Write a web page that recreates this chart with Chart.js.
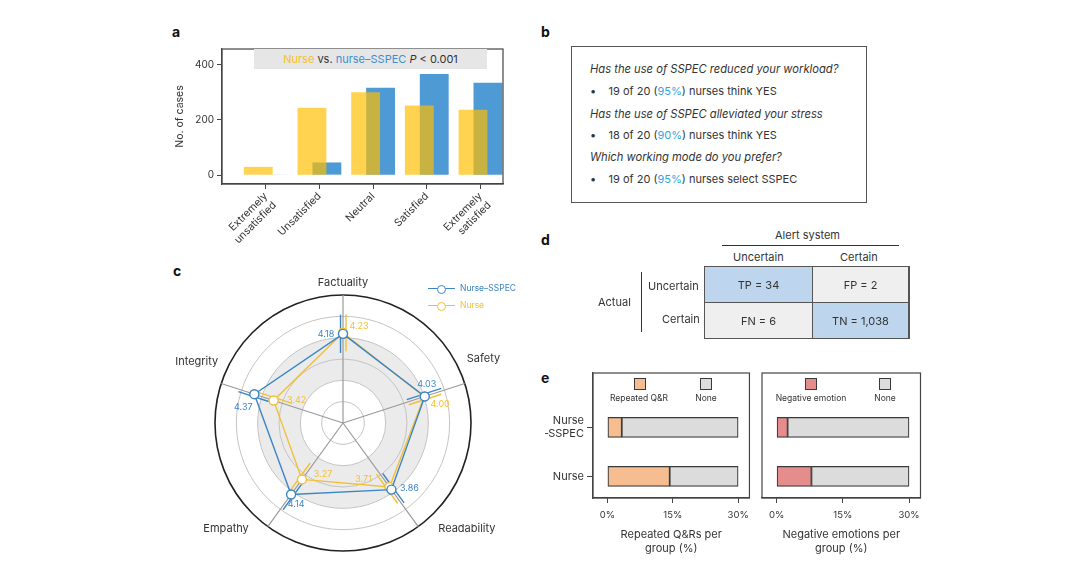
<!DOCTYPE html>
<html>
<head>
<meta charset="utf-8">
<script src="https://cdn.jsdelivr.net/npm/chart.js@4.4.0/dist/chart.umd.min.js"></script>
<style>
  body { margin: 0; width: 1080px; height: 571px; background: #fff; position: relative; overflow: hidden;
         font-family: Inter, sans-serif; color: #333; }
  canvas { position: absolute; }
  .abs { position: absolute; white-space: nowrap; }
  .panel { position: absolute; font-weight: 700; font-size: 14px; color: #111; }
  .q { font-style: italic; font-size: 11.2px; }
  .b { font-size: 11px; }
  .pct { color: #35a6dd; }
  .cell { position: absolute; font-size: 11px; display: flex; align-items: center; justify-content: center; }
  .sq { position: absolute; width: 10px; height: 10px; border: 1.2px solid #3a3a3a; }
  .lg { position: absolute; font-size: 8.5px; transform: translateX(-50%); white-space: nowrap; }
</style>
</head>
<body>

<!-- panel labels -->
<div class="panel" style="left:172px;top:23px">a</div>
<div class="panel" style="left:541px;top:23px">b</div>
<div class="panel" style="left:173px;top:262px">c</div>
<div class="panel" style="left:541px;top:231px">d</div>
<div class="panel" style="left:541px;top:369px">e</div>

<!-- panel a -->
<canvas id="barA" width="350" height="220" style="left:160px;top:40px"></canvas>
<div class="abs" style="left:254px;top:49px;width:233px;height:20px;background:#e6e6e6;font-size:11px;line-height:20px;text-align:center">
  <span style="color:#f5c02a">Nurse</span> vs. <span style="color:#3d8fd0">nurse–SSPEC</span> <i>P</i> &lt; 0.001
</div>

<!-- panel b -->
<div class="abs" style="left:571px;top:46px;width:294px;height:155px;border:1.3px solid #555"></div>
<div class="abs q" style="left:590px;top:62px">Has the use of SSPEC reduced your workload?</div>
<div class="abs b" style="left:590px;top:84px">•&nbsp;&nbsp;&nbsp;&nbsp;19 of 20 (<span class="pct">95%</span>) nurses think YES</div>
<div class="abs q" style="left:590px;top:107px">Has the use of SSPEC alleviated your stress</div>
<div class="abs b" style="left:590px;top:128px">•&nbsp;&nbsp;&nbsp;&nbsp;18 of 20 (<span class="pct">90%</span>) nurses think YES</div>
<div class="abs q" style="left:590px;top:150px">Which working mode do you prefer?</div>
<div class="abs b" style="left:590px;top:172px">•&nbsp;&nbsp;&nbsp;&nbsp;19 of 20 (<span class="pct">95%</span>) nurses select SSPEC</div>

<!-- panel c -->
<canvas id="radarC" width="380" height="290" style="left:160px;top:265px"></canvas>
<div class="abs" style="left:428px;top:288px;width:27px;height:1.3px;background:#3d85c6"></div>
<div class="abs" style="left:437px;top:285px;width:7px;height:7px;border:1.3px solid #3d85c6;border-radius:50%;background:#fff"></div>
<div class="abs" style="left:460px;top:283px;font-size:8.5px;color:#3d85c6">Nurse–SSPEC</div>
<div class="abs" style="left:428px;top:305px;width:27px;height:1.3px;background:#f2c038"></div>
<div class="abs" style="left:437px;top:302px;width:7px;height:7px;border:1.3px solid #f2c038;border-radius:50%;background:#fff"></div>
<div class="abs" style="left:460px;top:300px;font-size:8.5px;color:#f2c038">Nurse</div>

<!-- panel d -->
<div class="abs" style="left:775px;top:228px;font-size:11px">Alert system</div>
<div class="abs" style="left:722px;top:245px;width:177px;height:1px;background:#333"></div>
<div class="abs" style="left:733px;top:250px;font-size:11px">Uncertain</div>
<div class="abs" style="left:840px;top:250px;font-size:11px">Certain</div>
<div class="abs" style="left:598px;top:295px;font-size:11px">Actual</div>
<div class="abs" style="left:641px;top:272px;width:1px;height:60px;background:#333"></div>
<div class="abs" style="left:648px;top:279px;font-size:11px">Uncertain</div>
<div class="abs" style="left:662px;top:312px;font-size:11px">Certain</div>
<div class="abs" style="left:704px;top:266px;width:204px;height:71px;border:1px solid #555;background:#555"></div>
<div class="cell" style="left:705px;top:267px;width:107px;height:35px;background:#bdd6ee">TP = 34</div>
<div class="cell" style="left:813px;top:267px;width:95px;height:35px;background:#efefef">FP = 2</div>
<div class="cell" style="left:705px;top:303px;width:107px;height:35px;background:#efefef">FN = 6</div>
<div class="cell" style="left:813px;top:303px;width:95px;height:35px;background:#bdd6ee">TN = 1,038</div>

<!-- panel e -->
<canvas id="barE1" width="210" height="195" style="left:545px;top:365px"></canvas>
<canvas id="barE2" width="170" height="195" style="left:757px;top:365px"></canvas>
<div class="sq" style="left:634px;top:378px;background:#f6be90"></div>
<div class="lg" style="left:639px;top:393px">Repeated Q&amp;R</div>
<div class="sq" style="left:700px;top:378px;background:#dcdcdc"></div>
<div class="lg" style="left:706px;top:393px">None</div>
<div class="sq" style="left:805px;top:378px;background:#e58c8c"></div>
<div class="lg" style="left:811px;top:393px">Negative emotion</div>
<div class="sq" style="left:879px;top:378px;background:#dcdcdc"></div>
<div class="lg" style="left:885px;top:393px">None</div>

<script>
// ---- data ----
const satLabels = [['Extremely', 'unsatisfied'], 'Unsatisfied', 'Neutral', 'Satisfied', ['Extremely', 'satisfied']];
const nurseCases = [30, 244, 300, 252, 237];
const sspecCases = [1.5, 46, 317, 366, 335];
const caseTicks = [0, 200, 400];

const criteria = ['Factuality', 'Safety', 'Readability', 'Empathy', 'Integrity'];
const sspecScore = [4.18, 4.03, 3.86, 4.14, 4.37];
const nurseScore = [4.23, 4.00, 3.71, 3.27, 3.42];
const sspecSD = [0.9, 0.85, 0.85, 0.8, 0.75];
const nurseSD = [0.87, 0.8, 0.85, 0.85, 0.87];

const groups = [['Nurse', '–SSPEC'], 'Nurse'];
const repeatedQA = [3.3, 14.3];
const repeatedNone = [26.7, 15.7];
const negEmotion = [2.5, 7.9];
const negNone = [27.5, 22.1];
const pctTicks = [0, 15, 30];

Chart.defaults.font.family = 'Inter, sans-serif';
Chart.defaults.color = '#333';

const frame = {
    id: 'frame',
    afterDraw(chart) {
        const { ctx, chartArea: a } = chart;
        ctx.save();
        ctx.strokeStyle = '#444';
        ctx.lineWidth = 1.2;
        ctx.strokeRect(a.left, a.top, a.right - a.left, a.bottom - a.top);
        ctx.restore();
    }
};

// ---- panel a ----
new Chart(document.getElementById('barA'), {
    type: 'bar',
    data: {
        datasets: [
            { label: 'Nurse', data: nurseCases.map((v, i) => ({ x: i, y: v })), backgroundColor: 'rgba(255,190,0,0.69)' },
            { label: 'Nurse-SSPEC', data: sspecCases.map((v, i) => ({ x: i, y: v })), backgroundColor: 'rgb(78,154,212)' }
        ]
    },
    options: {
        responsive: false,
        animation: false,
        categoryPercentage: 0.556,
        barPercentage: 1.933,
        layout: { padding: { top: 7, right: 7, left: 0, bottom: 0 } },
        plugins: { legend: { display: false }, tooltip: { enabled: false } },
        scales: {
            x: {
                type: 'linear', min: -0.815, max: 4.42, offset: false,
                afterBuildTicks: s => { s.ticks = satLabels.map((_, i) => ({ value: i })); },
                afterFit: s => { s.height = 76; s.paddingLeft = 0; s.paddingRight = 0; },
                grid: { drawOnChartArea: false, offset: false, tickLength: 5, color: '#444' },
                border: { color: '#444', width: 1.2 },
                ticks: { callback: v => satLabels[v], minRotation: 45, maxRotation: 45, autoSkip: false, padding: 1, font: { size: 10.5 } }
            },
            y: {
                min: -32, max: 457,
                afterBuildTicks: s => { s.ticks = caseTicks.map(v => ({ value: v })); },
                afterFit: s => { s.width = 62; },
                grid: { drawOnChartArea: false, tickLength: 5, color: '#444' },
                border: { color: '#444', width: 1.2 },
                ticks: { font: { size: 10 }, padding: 3 },
                title: { display: true, text: 'No. of cases', font: { size: 10.5 }, padding: { top: 14, bottom: 0 } }
            }
        }
    },
    plugins: [frame]
});

// ---- panel c ----
const blueR = '#3d85c6', yellowR = '#f2c038';

const band = {
    id: 'band',
    beforeDraw(chart) {
        const s = chart.scales.r, ctx = chart.ctx;
        ctx.save();
        ctx.fillStyle = '#ebebeb';
        ctx.beginPath();
        ctx.arc(s.xCenter, s.yCenter, s.getDistanceFromCenterForValue(4), 0, Math.PI * 2);
        ctx.arc(s.xCenter, s.yCenter, s.getDistanceFromCenterForValue(2), 0, Math.PI * 2, true);
        ctx.fill();
        ctx.restore();
    }
};

function offsetPos(s, i, v, off) {
    const p = s.getPointPositionForValue(i, v);
    return { x: p.x - Math.sin(p.angle) * off, y: p.y + Math.cos(p.angle) * off };
}

const errorBars = {
    id: 'errorBars',
    beforeDatasetsDraw(chart) {
        const s = chart.scales.r, ctx = chart.ctx;
        const sets = [[sspecScore, sspecSD, blueR, -2.5], [nurseScore, nurseSD, yellowR, 3]];
        ctx.save();
        ctx.lineWidth = 1.4;
        sets.forEach(([vals, sd, col, off]) => {
            ctx.strokeStyle = col;
            vals.forEach((v, i) => {
                const a = offsetPos(s, i, v - sd[i], off), b = offsetPos(s, i, v + sd[i], off);
                ctx.beginPath(); ctx.moveTo(a.x, a.y); ctx.lineTo(b.x, b.y); ctx.stroke();
            });
        });
        ctx.restore();
    }
};

const sspecLabelOff = [[-17, 0], [2, -12], [18, -1], [5, 10], [-11, 13]];
const nurseLabelOff = [[16, -6], [16, 8], [-26, -8], [21, -5], [23, 0]];
const axisLabelOff = [[0, -12, 'center'], [2, -25, 'left'], [20, 2, 'left'], [-19, 2, 'right'], [-3, -22, 'right']];

const radarText = {
    id: 'radarText',
    afterDraw(chart) {
        const s = chart.scales.r, ctx = chart.ctx;
        ctx.save();
        ctx.textBaseline = 'middle';
        ctx.font = '9px Inter, sans-serif';
        ctx.textAlign = 'center';
        [[sspecScore, sspecLabelOff, blueR], [nurseScore, nurseLabelOff, yellowR]].forEach(([vals, offs, col]) => {
            ctx.fillStyle = col;
            vals.forEach((v, i) => {
                const p = s.getPointPositionForValue(i, v);
                ctx.fillText(v.toFixed(2), p.x + offs[i][0], p.y + offs[i][1]);
            });
        });
        ctx.font = '11px Inter, sans-serif';
        ctx.fillStyle = '#333';
        criteria.forEach((c, i) => {
            const p = s.getPointPositionForValue(i, s.max);
            ctx.textAlign = axisLabelOff[i][2];
            ctx.fillText(c, p.x + axisLabelOff[i][0], p.y + axisLabelOff[i][1]);
        });
        ctx.restore();
    }
};

new Chart(document.getElementById('radarC'), {
    type: 'radar',
    data: {
        labels: criteria,
        datasets: [
            { label: 'Nurse-SSPEC', data: sspecScore, borderColor: blueR, borderWidth: 1.4, fill: false,
              pointRadius: 4.5, pointBackgroundColor: '#fff', pointBorderColor: blueR, pointBorderWidth: 1.4 },
            { label: 'Nurse', data: nurseScore, borderColor: yellowR, borderWidth: 1.4, fill: false,
              pointRadius: 4.5, pointBackgroundColor: '#fff', pointBorderColor: yellowR, pointBorderWidth: 1.4 }
        ]
    },
    options: {
        responsive: false,
        animation: false,
        layout: { padding: { left: 55, top: 30, right: 69, bottom: 4 } },
        plugins: { legend: { display: false }, tooltip: { enabled: false } },
        scales: {
            r: {
                min: 0, max: 6,
                ticks: { display: false, stepSize: 1 },
                grid: {
                    circular: true,
                    color: c => c.tick.value === 6 ? '#222' : '#c4c4c4',
                    lineWidth: c => c.tick.value === 6 ? 1.6 : 1
                },
                angleLines: { color: '#9a9a9a', lineWidth: 1.2 },
                pointLabels: { display: false }
            }
        }
    },
    plugins: [band, errorBars, radarText]
});

// ---- panel e ----
function stackedBar(id, parts, colors, title, showY, yWidth, pad) {
    new Chart(document.getElementById(id), {
        type: 'bar',
        data: {
            datasets: parts.map((vals, k) => ({
                data: vals.map((v, i) => ({ x: v, y: i })),
                backgroundColor: colors[k], borderColor: '#3a3a3a', borderWidth: 1.2, borderSkipped: false
            }))
        },
        options: {
            indexAxis: 'y',
            responsive: false,
            animation: false,
            barThickness: 20,
            layout: { padding: pad },
            plugins: { legend: { display: false }, tooltip: { enabled: false } },
            scales: {
                x: {
                    stacked: true, min: -3.3, max: 32.6,
                    afterBuildTicks: s => { s.ticks = pctTicks.map(v => ({ value: v })); },
                    afterFit: s => { s.height = 62; },
                    grid: { drawOnChartArea: false, tickLength: 5, color: '#444' },
                    border: { color: '#444', width: 1.2 },
                    ticks: { callback: v => v + '%', font: { size: 9.5 }, padding: 6 },
                    title: { display: true, text: title, font: { size: 11, lineHeight: 1.3 }, padding: { top: 4, bottom: 4 } }
                },
                y: {
                    type: 'linear', stacked: true, reverse: true, min: -1.11, max: 1.44, offset: false,
                    display: showY,
                    afterBuildTicks: s => { s.ticks = groups.map((_, i) => ({ value: i })); },
                    afterFit: s => { s.width = yWidth; s.paddingTop = 0; s.paddingBottom = 0; },
                    grid: { drawOnChartArea: false, offset: false, tickLength: 6, color: '#444' },
                    border: { color: '#444', width: 1.2 },
                    ticks: { callback: v => groups[v], font: { size: 11 }, padding: 3 }
                }
            }
        },
        plugins: [frame]
    });
}

stackedBar('barE1', [repeatedQA, repeatedNone], ['#f6be90', '#dcdcdc'], ['Repeated Q&Rs per', 'group (%)'], true, 48,
    { top: 8, right: 4, left: 0, bottom: 0 });
stackedBar('barE2', [negEmotion, negNone], ['#e58c8c', '#dcdcdc'], ['Negative emotions per', 'group (%)'], false, 0,
    { top: 8, right: 6.5, left: 5, bottom: 0 });
</script>
</body>
</html>
